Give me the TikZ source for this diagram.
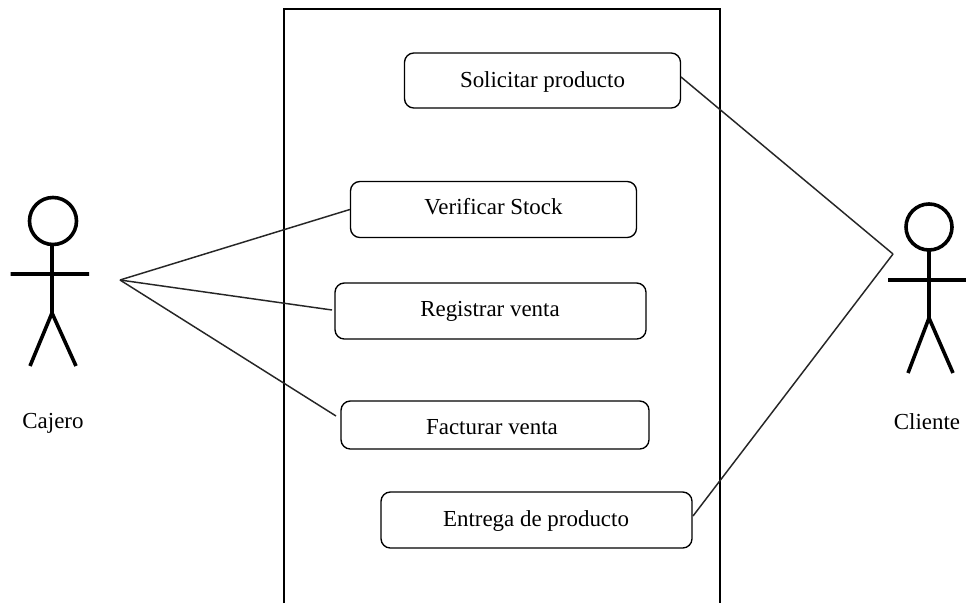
\documentclass[tikz,border=0pt]{standalone}
\usepackage{fontspec}
\setmainfont{Liberation Serif}
\tikzset{
  usecase/.style={draw=black,line width=1pt,rounded corners=7pt,inner sep=0pt,fill=white},
  lab/.style={font=\fontsize{17.2pt}{20pt}\selectfont,inner sep=0pt,anchor=center},
  wire/.style={draw=black!85,line width=1.1pt},
  fig/.style={draw=black,line width=2.7pt}
}
\begin{document}
\begin{tikzpicture}[x=0.75pt,y=-0.75pt]
\useasboundingbox (0,0) rectangle (966,603);
\fill[white] (0,0) rectangle (966,603);
% system boundary
\coordinate (bTL) at (284,9);
\coordinate (bTR) at (720,9);
\coordinate (bBL) at (284,603);
\coordinate (bBR) at (720,603);
\draw[black,line width=0.9pt] (bBL) -- (bTL) -- (bTR) -- (bBR);
% use cases
\node[usecase,minimum width=276pt*0.75,minimum height=55pt*0.75] (sol) at (542.5,80.5) {};
\node[lab] (solt) at (542.5,82) {Solicitar producto};
\node[usecase,minimum width=286pt*0.75,minimum height=56pt*0.75] (ver) at (493.5,209.5) {};
\node[lab] (vert) at (493.5,207) {Verificar Stock};
\node[usecase,minimum width=311pt*0.75,minimum height=56pt*0.75] (reg) at (490.5,311) {};
\node[lab] (regt) at (490,311) {Registrar venta};
\node[usecase,minimum width=308pt*0.75,minimum height=48pt*0.75] (fac) at (495,425) {};
\node[lab] (fact) at (492,427) {Facturar venta};
\node[usecase,minimum width=311pt*0.75,minimum height=56pt*0.75] (ent) at (536.5,520) {};
\node[lab] (entt) at (536,521) {Entrega de producto};
% actors
\coordinate (caj) at (120,280);
\coordinate (cli) at (893,254);
\coordinate (regp) at (332,310);
\coordinate (facp) at (336,416);
\coordinate (solp) at (681,77);
\coordinate (entp) at (693,516);
\draw[fig] (53,221) circle (23.5*0.75pt);
\draw[fig] (52,246) -- (52,313) (10.5,274) -- (89,274) (52,313) -- (30,366) (52,313) -- (76,366);
\draw[fig] (929,227) circle (23*0.75pt);
\draw[fig] (929,250) -- (929,318) (888,280) -- (966,280) (929,318) -- (908,373) (929,318) -- (953,373);
\node[lab] (cajl) at (53,423) {Cajero};
\node[lab] (clil) at (927,422) {Cliente};
% connectors
\draw[wire] (caj) -- (ver.west);
\draw[wire] (caj) -- (regp);
\draw[wire] (caj) -- (facp);
\draw[wire] (cli) -- (solp);
\draw[wire] (cli) -- (entp);
\end{tikzpicture}
\end{document}
